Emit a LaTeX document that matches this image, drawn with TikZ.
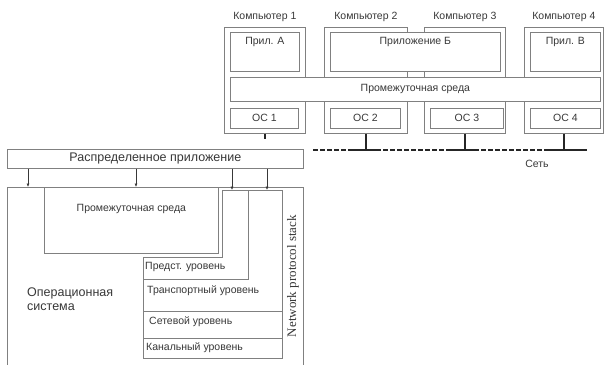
\documentclass[tikz,border=0pt]{standalone}
\usepackage{fontspec}
\setmainfont{Liberation Sans}
\newfontfamily\stackfont{Liberation Serif}
\usetikzlibrary{positioning,arrows.meta}
\definecolor{linegray}{HTML}{808080}
\definecolor{textgray}{HTML}{383838}

\begin{document}
\begin{tikzpicture}[x=1pt,y=-1pt,
    box/.style={draw=linegray,fill=white,line width=0.7pt,inner sep=0pt,anchor=north west},
    lbl/.style={text=textgray,font=\fontsize{10.5}{12}\selectfont,inner sep=1pt},
    big/.style={text=textgray,font=\fontsize{12.5}{14}\selectfont,inner sep=1pt},
    layer/.style={draw=linegray,line width=0.7pt},
    arr/.style={draw=textgray,line width=0.6pt,-{Latex[length=3.5pt,width=3pt]}},
    net/.style={draw=black!85,line width=2.4pt},
    netdash/.style={net,dash pattern=on 4.5pt off 2.5pt}]
  \useasboundingbox (0,0) rectangle (604,364);

  \node[box,minimum width=81,minimum height=106] (pc1) at (224,27) {};
  \node[box,minimum width=83,minimum height=106] (pc2) at (324,27) {};
  \node[box,minimum width=81,minimum height=106] (pc3) at (424,27) {};
  \node[box,minimum width=79,minimum height=106] (pc4) at (524,27) {};
  \node[lbl,above=4pt of pc1] (pc1name) {Компьютер 1};
  \node[lbl,above=4pt of pc2] (pc2name) {Компьютер 2};
  \node[lbl,above=4pt of pc3] (pc3name) {Компьютер 3};
  \node[lbl,above=4pt of pc4] (pc4name) {Компьютер 4};

  \node[box,minimum width=69,minimum height=39] (appA) at (230,32) {};
  \node[box,minimum width=170,minimum height=39] (appB) at (330,32) {};
  \node[box,minimum width=70,minimum height=39] (appC) at (530,32) {};
  \node[lbl,below=4pt of appA.north] (appAname) {Прил. А};
  \node[lbl,below=4pt of appB.north] (appBname) {Приложение Б};
  \node[lbl,below=4pt of appC.north] (appCname) {Прил. В};

  \node[box,lbl,inner sep=0pt,minimum width=370,minimum height=24] (mw) at (230,77) {Промежуточная среда};

  \node[box,lbl,inner sep=0pt,minimum width=68,minimum height=20] (os1) at (230,108) {ОС 1};
  \node[box,lbl,inner sep=0pt,minimum width=70,minimum height=20] (os2) at (330,108) {ОС 2};
  \node[box,lbl,inner sep=0pt,minimum width=73,minimum height=20] (os3) at (430,108) {ОС 3};
  \node[box,lbl,inner sep=0pt,minimum width=70,minimum height=20] (os4) at (530,108) {ОС 4};

  \coordinate (netW) at (313,150);
  \coordinate (netE) at (587,150);
  \coordinate (stub) at (264,139);
  \draw[netdash] (netW) -- (netE);
  \foreach \p in {pc2,pc3}
    \draw[net] (\p.south |- netW) ++(-18,0) -- ++(30,0);
  \draw[net] (pc4.south |- netW) ++(-18,0) -- (netE);
  \foreach \p in {pc2,pc3,pc4}
    \draw[net] (\p.south) -- (\p.south |- netW);
  \draw[net] (pc1.south) -- (pc1.south |- stub);
  \node[lbl] (netname) at (537,164) {Сеть};

  \node[box,big,inner sep=0pt,minimum width=296,minimum height=19] (dist) at (7,149) {Распределенное приложение};
  \node[box,minimum width=296,minimum height=180] (os) at (7,187) {};
  \node[big,anchor=west,align=left] (ostext) at (26,299) {Операционная\\система};
  \node[box,minimum width=174,minimum height=66] (mid) at (44,187) {};
  \node[lbl,below=16pt of mid.north] (midname) {Промежуточная среда};

  \draw[layer,fill=white] (222,190) coordinate (stk) -- (282,190) -- (282,358) -- (143,358)
    -- (143,257) -- (222,257) -- cycle;
  \draw[layer] (248,190) -- (248,279) -- (143,279);
  \draw[layer] (143,311) -- (282,311);
  \draw[layer] (143,338) -- (282,338);
  \node[lbl,anchor=west] (pres) at (144,267) {Предст. уровень};
  \node[lbl,anchor=west] (trans) at (146,291) {Транспортный уровень};
  \node[lbl,anchor=west] (netw) at (148,322) {Сетевой уровень};
  \node[lbl,anchor=west] (link) at (145,348) {Канальный уровень};
  \node[text=textgray,font=\stackfont\fontsize{13}{15}\selectfont,rotate=90] (nps) at (293,276) {Network protocol stack};

  \foreach \x in {28,136}
    \draw[arr] (\x,0 |- dist.south) -- (\x,0 |- os.north);
  \foreach \x in {232,267}
    \draw[arr] (\x,0 |- dist.south) -- (\x,0 |- stk);
\end{tikzpicture}
\end{document}
